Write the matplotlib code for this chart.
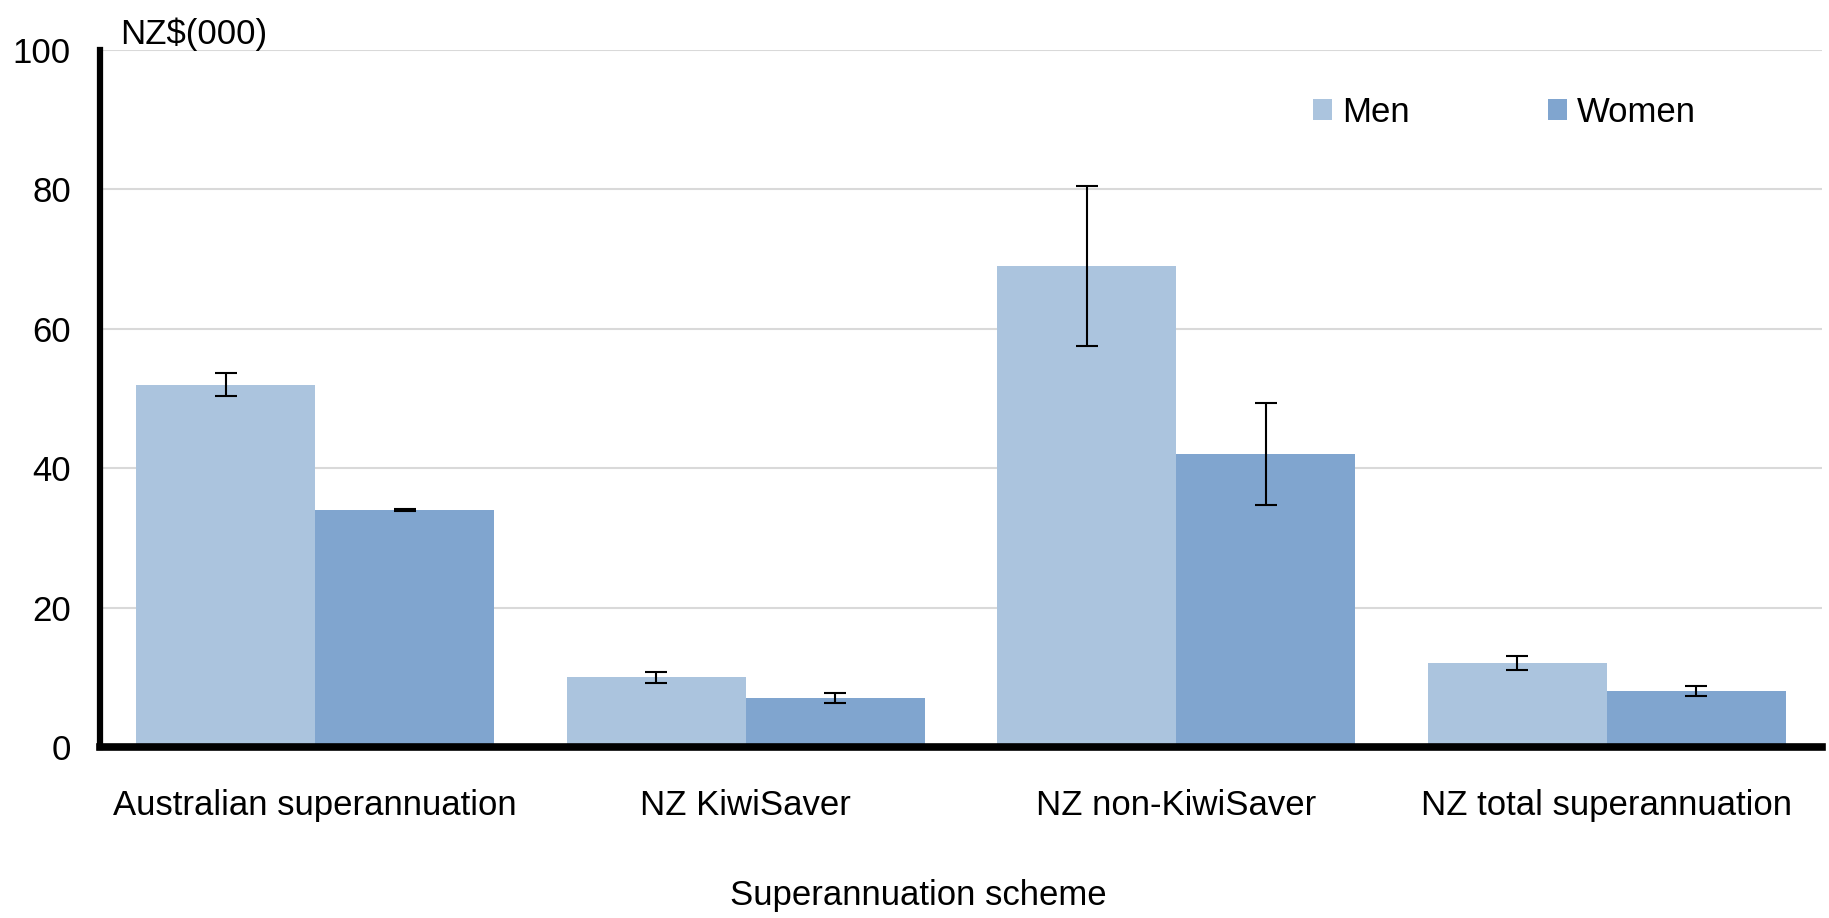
import matplotlib
matplotlib.use("Agg")
import matplotlib.pyplot as plt
import numpy as np

categories = ["Australian superannuation", "NZ KiwiSaver", "NZ non-KiwiSaver", "NZ total superannuation"]
men = [52, 10, 69, 12]
men_err = [1.6, 0.8, 11.5, 1.0]
women = [34, 7, 42, 8]
women_err = [0.2, 0.7, 7.3, 0.7]
y_ticks = [0, 20, 40, 60, 80, 100]

plt.rcParams['font.family'] = ['Liberation Sans', 'DejaVu Sans']
FS = 25

W, H = 1829, 918
fig = plt.figure(figsize=(W / 100, H / 100), dpi=100)
ax = fig.add_axes([100 / W, 1 - 747 / H, (1822 - 100) / W, (747 - 50) / H])

x = np.arange(len(categories))
bw = 0.416
c_men = "#abc4de"
c_women = "#80a5cf"
ax.bar(x - bw / 2, men, bw, color=c_men, label="Men", zorder=2)
ax.bar(x + bw / 2, women, bw, color=c_women, label="Women", zorder=2)
ax.errorbar(x - bw / 2, men, yerr=men_err, fmt="none", ecolor="black", elinewidth=1.5, capsize=8, capthick=1.5, zorder=3)
ax.errorbar(x + bw / 2, women, yerr=women_err, fmt="none", ecolor="black", elinewidth=1.5, capsize=8, capthick=1.5, zorder=3)

ax.set_xlim(-0.5, 3.5)
ax.set_ylim(0, 100)
ax.set_yticks(y_ticks)
ax.set_xticks(x)
ax.set_xticklabels(categories)
ax.tick_params(axis="both", length=0, labelsize=FS)
ax.tick_params(axis="y", pad=21)
ax.tick_params(axis="x", pad=30)
ax.yaxis.grid(True, color="#d9d9d9", linewidth=1.5, zorder=0)
ax.set_axisbelow(True)
for s in ["top", "right"]:
    ax.spines[s].set_visible(False)
ax.spines["left"].set_linewidth(4.5)
ax.spines["bottom"].set_linewidth(5.5)
ax.spines["left"].set_zorder(4)
ax.spines["bottom"].set_zorder(4)

leg = ax.legend(loc="center left", bbox_to_anchor=((1313 - 100) / 1722, (747 - 112) / 697),
                ncol=2, frameon=False, fontsize=FS, handlelength=0.55, handleheight=0.55,
                handletextpad=0.28, columnspacing=4.0, borderpad=0, borderaxespad=0)

fig.text(120 / W, 1 - 34 / H, "NZ$(000)", fontsize=FS, ha="left", va="center")
fig.text(918 / W, 1 - 895 / H, "Superannuation scheme", fontsize=FS, ha="center", va="center")

fig.savefig("out.png", dpi=100)
